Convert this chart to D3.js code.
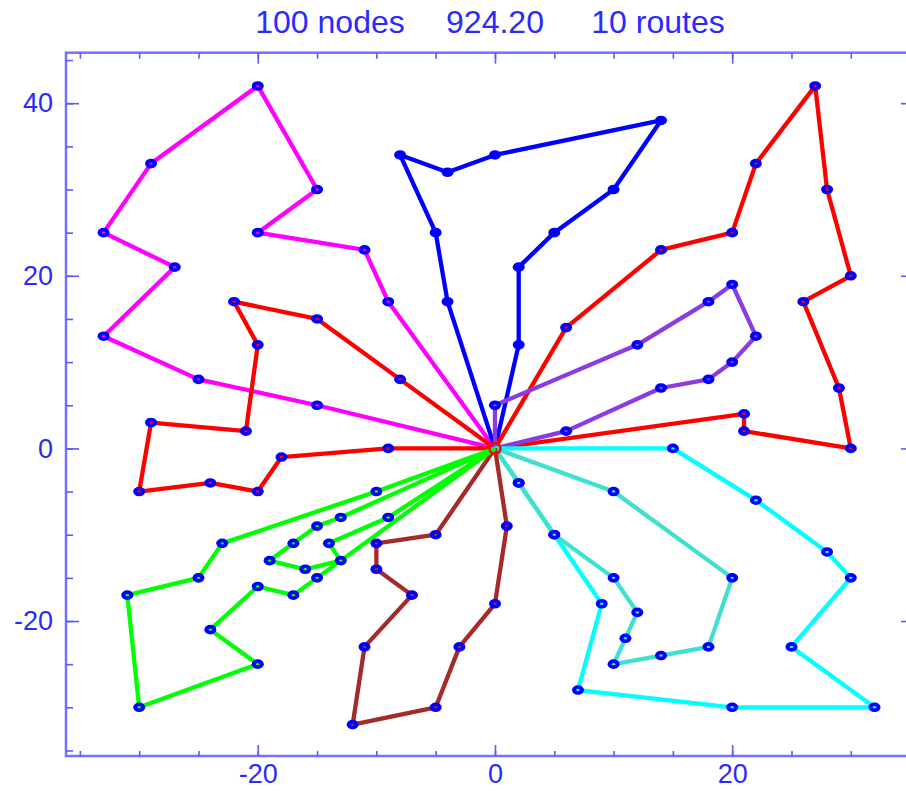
<!DOCTYPE html>
<html>
<head>
<meta charset="utf-8">
<script src="https://cdn.jsdelivr.net/npm/d3@7"></script>
<style>
  body { margin: 0; background: #fff; }
  text { font-family: 'Liberation Sans', Arial, sans-serif; }
</style>
</head>
<body>
<svg width="906" height="791"></svg>
<script>
const titleParts = ['100 nodes', '924.20', '10 routes']
const depot = [0, 0]

// each route leaves the depot and comes back to it
const routeMagenta = [[-15, 5], [-25, 8], [-33, 13], [-27, 21], [-33, 25], [-29, 33], [-20, 42], [-15, 30], [-20, 25], [-11, 23], [-9, 17]]
const routeRedLeft = [[-9, 0], [-18, -1], [-20, -5], [-24, -4], [-30, -5], [-29, 3], [-21, 2], [-20, 12], [-22, 17], [-15, 15], [-8, 8]]
const routeBlue = [[-4, 17], [-5, 25], [-8, 34], [-4, 32], [0, 34], [14, 38], [10, 30], [5, 25], [2, 21], [2, 12]]
const routeRedRight = [[6, 14], [14, 23], [20, 25], [22, 33], [27, 42], [28, 30], [30, 20], [26, 17], [29, 7], [30, 0], [21, 2], [21, 4]]
const routePurple = [[0, 5], [12, 12], [18, 17], [20, 19], [22, 13], [20, 10], [18, 8], [14, 7], [6, 2]]
const routeCyan = [[15, 0], [22, -6], [28, -12], [30, -15], [25, -23], [32, -30], [20, -30], [7, -28], [9, -18], [5, -10], [2, -4]]
const routeTurquoise = [[10, -5], [20, -15], [18, -23], [14, -24], [10, -25], [11, -22], [12, -19], [10, -15], [5, -10], [2, -4]]
const routeBrown = [[-5, -10], [-10, -11], [-10, -14], [-7, -17], [-11, -23], [-12, -32], [-5, -30], [-3, -23], [0, -18], [1, -9]]
const routeGreenA = [[-10, -5], [-23, -11], [-25, -15], [-31, -17], [-30, -30], [-20, -25], [-24, -21], [-20, -16], [-17, -17], [-15, -15]]
const routeGreenB = [[-13, -8], [-15, -9], [-17, -11], [-19, -13], [-16, -14], [-13, -13], [-14, -11], [-9, -8]]

const routes = [routeMagenta, routeRedLeft, routeBlue, routeRedRight, routePurple, routeCyan, routeTurquoise, routeBrown, routeGreenA, routeGreenB]
const routeColors = ['#ff00ff', '#ff0000', '#0000ff', '#ff0000', '#8a3be2', '#00ffff', '#40e0d0', '#a52a2a', '#00ff00', '#00ff00']

const xMinorTicks = [-35, -30, -25, -20, -15, -10, -5, 0, 5, 10, 15, 20, 25, 30, 35]
const xMajorTicks = [-20, 0, 20]
const yMinorTicks = [-35, -30, -25, -20, -15, -10, -5, 0, 5, 10, 15, 20, 25, 30, 35, 40, 45]
const yMajorTicks = [-20, 0, 20, 40]

const svg = d3.select('svg')
const plot = { left: 66, right: 914, top: 52.7, bottom: 756 }
const axisColor = '#5a5aff'
const labelColor = '#2a2aff'

const x = d3.scaleLinear()
  .domain([-36.17, 35.33])
  .range([plot.left, plot.right])

const y = d3.scaleLinear()
  .domain([-35.64, 45.85])
  .range([plot.bottom, plot.top])

// frame
svg.append('rect')
  .attr('x', plot.left)
  .attr('y', plot.top)
  .attr('width', plot.right - plot.left)
  .attr('height', plot.bottom - plot.top)
  .attr('fill', 'none')
  .attr('stroke', axisColor)
  .attr('stroke-opacity', 0.85)
  .attr('stroke-width', 2.5)

function styleAxis (g) {
  g.select('.domain').remove()
  g.attr('color', axisColor)
  g.selectAll('line').attr('stroke-width', 1.6)
  g.selectAll('text')
    .attr('fill', labelColor)
    .style('font-size', '27px')
    .style('font-family', "'Liberation Sans', Arial, sans-serif")
}

const noLabel = () => ''

svg.append('g').attr('transform', 'translate(0,' + plot.bottom + ')')
  .call(d3.axisBottom(x).tickValues(xMinorTicks).tickSize(-5).tickSizeOuter(0).tickFormat(noLabel)).call(styleAxis)
svg.append('g').attr('transform', 'translate(0,' + plot.bottom + ')')
  .call(d3.axisBottom(x).tickValues(xMajorTicks).tickSize(-11).tickSizeOuter(0).tickPadding(8).tickFormat(d3.format('d'))).call(styleAxis)
svg.append('g').attr('transform', 'translate(0,' + plot.top + ')')
  .call(d3.axisTop(x).tickValues(xMinorTicks).tickSize(-6).tickSizeOuter(0).tickFormat(noLabel)).call(styleAxis)
svg.append('g').attr('transform', 'translate(0,' + plot.top + ')')
  .call(d3.axisTop(x).tickValues(xMajorTicks).tickSize(-11).tickSizeOuter(0).tickFormat(noLabel)).call(styleAxis)

svg.append('g').attr('transform', 'translate(' + plot.left + ',0)')
  .call(d3.axisLeft(y).tickValues(yMinorTicks).tickSize(-7).tickSizeOuter(0).tickFormat(noLabel)).call(styleAxis)
svg.append('g').attr('transform', 'translate(' + plot.left + ',0)')
  .call(d3.axisLeft(y).tickValues(yMajorTicks).tickSize(-13).tickSizeOuter(0).tickPadding(13).tickFormat(d3.format('d'))).call(styleAxis)
svg.append('g').attr('transform', 'translate(' + plot.right + ',0)')
  .call(d3.axisRight(y).tickValues(yMinorTicks).tickSize(-7).tickSizeOuter(0).tickFormat(noLabel)).call(styleAxis)
svg.append('g').attr('transform', 'translate(' + plot.right + ',0)')
  .call(d3.axisRight(y).tickValues(yMajorTicks).tickSize(-13).tickSizeOuter(0).tickFormat(noLabel)).call(styleAxis)

// hyphen minus like the original
svg.selectAll('.tick text').text(function () { return this.textContent.replace('\u2212', '-') })

// title
const titleX = [330, 495, 658]
svg.selectAll('.title')
  .data(titleParts)
  .enter().append('text')
  .attr('class', 'title')
  .attr('x', (d, i) => titleX[i])
  .attr('y', 33)
  .attr('text-anchor', 'middle')
  .attr('fill', labelColor)
  .style('font-size', '32px')
  .text(d => d)

// routes
const line = d3.line()
  .x(d => x(d[0]))
  .y(d => y(d[1]))

svg.append('g')
  .selectAll('path')
  .data(routes)
  .enter().append('path')
  .attr('d', r => line([depot].concat(r, [depot])))
  .attr('fill', 'none')
  .attr('stroke', (r, i) => routeColors[i])
  .attr('stroke-width', 4.3)
  .attr('stroke-linejoin', 'round')

// nodes
const nodes = []
routes.forEach(function (r, i) {
  r.forEach(function (p) {
    nodes.push({ p: p, color: routeColors[i] })
  })
})

const node = svg.append('g')
  .selectAll('g')
  .data(nodes)
  .enter().append('g')
  .attr('transform', d => 'translate(' + x(d.p[0]) + ',' + y(d.p[1]) + ')')

node.append('ellipse')
  .attr('rx', 6)
  .attr('ry', 4.8)
  .attr('fill', '#0000ff')

node.append('ellipse')
  .attr('rx', 1.8)
  .attr('ry', 1.2)
  .attr('fill', d => d.color)

// depot
svg.append('circle')
  .attr('cx', x(depot[0]))
  .attr('cy', y(depot[1]))
  .attr('r', 5.5)
  .attr('fill', 'none')
  .attr('stroke', '#ff0000')
  .attr('stroke-width', 2.5)
</script>
</body>
</html>
